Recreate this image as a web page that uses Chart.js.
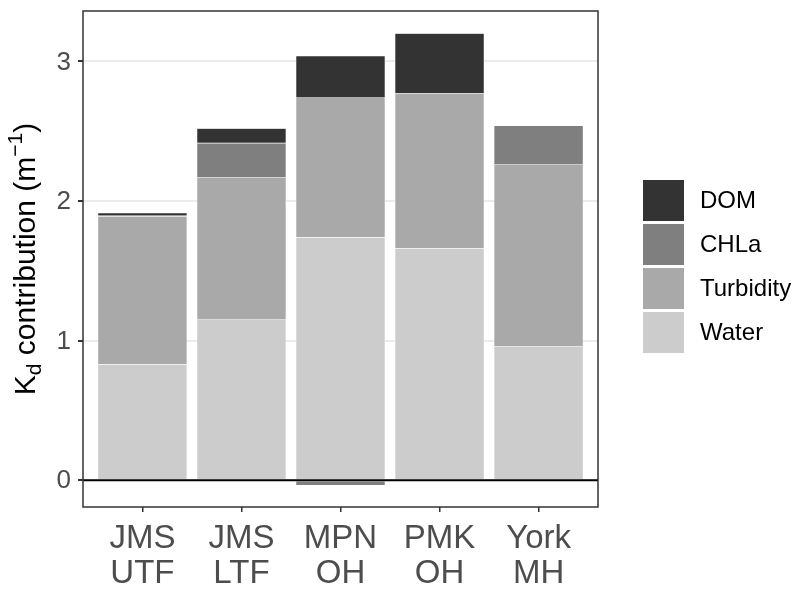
<!DOCTYPE html>
<html>
<head>
<meta charset="utf-8">
<script src="https://cdn.jsdelivr.net/npm/chart.js@4.4.1/dist/chart.umd.min.js"></script>
<style>
  html, body { margin: 0; padding: 0; background: #fff; }
  #wrap { width: 796px; height: 589px; }
</style>
</head>
<body>
<div id="wrap"><canvas id="kd" width="796" height="589"></canvas></div>
<script>
// stations (x axis), two lines each
const sites = [['JMS', 'UTF'], ['JMS', 'LTF'], ['MPN', 'OH'], ['PMK', 'OH'], ['York', 'MH']];
// Kd contributions, m^-1
const water = [0.83, 1.15, 1.74, 1.66, 0.96];
const turbidity = [1.06, 1.02, 1.00, 1.11, 1.30];
const chla = [0.005, 0.245, -0.035, 0.0, 0.28];
const dom = [0.02, 0.105, 0.30, 0.43, 0.0];
const yTicks = [0, 1, 2, 3];

const components = ['Water', 'Turbidity', 'CHLa', 'DOM'];
const fills = ['#CCCCCC', '#A9A9A9', '#7F7F7F', '#333333'];
const series = [water, turbidity, chla, dom];

const FONT = '"Liberation Sans", Arial, Helvetica, sans-serif';

function toPoints(arr) {
  return arr.map((v, i) => ({ x: i + 1, y: v }));
}

// zero line, panel border, tick labels, y title, legend
const decor = {
  id: 'decor',
  afterDatasetsDraw(chart) {
    const { ctx, chartArea: a, scales } = chart;
    const y0 = scales.y.getPixelForValue(0);
    ctx.save();
    ctx.strokeStyle = '#000';
    ctx.lineWidth = 2;
    ctx.beginPath();
    ctx.moveTo(a.left, y0);
    ctx.lineTo(a.right, y0);
    ctx.stroke();
    ctx.strokeStyle = '#333333';
    ctx.lineWidth = 1.5;
    ctx.strokeRect(a.left, a.top, a.right - a.left, a.bottom - a.top);
    ctx.restore();
  },
  afterDraw(chart) {
    const { ctx, chartArea: a, scales } = chart;

    // tick labels
    ctx.save();
    ctx.fillStyle = '#4D4D4D';
    ctx.font = '26px ' + FONT;
    ctx.textAlign = 'right';
    ctx.textBaseline = 'middle';
    yTicks.forEach(v => ctx.fillText(String(v), 71, scales.y.getPixelForValue(v) + 1));
    ctx.font = '33px ' + FONT;
    ctx.textAlign = 'center';
    ctx.textBaseline = 'alphabetic';
    sites.forEach((lines, i) => {
      const px = scales.x.getPixelForValue(i + 1);
      lines.forEach((t, j) => ctx.fillText(t, px, 548 + j * 35));
    });
    ctx.restore();

    // y axis title with sub/superscript
    ctx.save();
    const big = '30px ' + FONT, small = '21px ' + FONT;
    const parts = [['K', big, 0], ['d', small, 6], [' contribution (m', big, 0], ['\u22121', small, -13], [')', big, 0]];
    let total = 0;
    parts.forEach(p => { ctx.font = p[1]; total += ctx.measureText(p[0]).width; });
    ctx.translate(35, (a.top + a.bottom) / 2);
    ctx.rotate(-Math.PI / 2);
    ctx.fillStyle = '#000';
    ctx.textBaseline = 'alphabetic';
    let x = -total / 2;
    parts.forEach(p => {
      ctx.font = p[1];
      ctx.fillText(p[0], x, p[2]);
      x += ctx.measureText(p[0]).width;
    });
    ctx.restore();

    // legend, top item is DOM
    ctx.save();
    const keyX = 643, keyTop = 180, key = 41, step = 44;
    for (let k = 0; k < 4; k++) {
      const idx = 3 - k;
      const yTop = keyTop + k * step;
      ctx.fillStyle = fills[idx];
      ctx.fillRect(keyX, yTop, key, key);
      ctx.fillStyle = '#000';
      ctx.font = '24px ' + FONT;
      ctx.textBaseline = 'middle';
      ctx.fillText(components[idx], 700, yTop + key / 2 + 1);
    }
    ctx.restore();
  }
};

new Chart(document.getElementById('kd'), {
  type: 'bar',
  data: {
    datasets: components.map((name, i) => ({
      label: name,
      data: toPoints(series[i]),
      backgroundColor: fills[i],
      borderColor: 'rgba(255,255,255,0.8)',
      borderWidth: 0.6,
      barThickness: 89,
      borderSkipped: false
    }))
  },
  options: {
    responsive: false,
    animation: false,
    layout: { padding: { top: 11, right: 198, left: 0, bottom: 0 } },
    plugins: {
      legend: { display: false },
      tooltip: { enabled: false }
    },
    scales: {
      x: {
        type: 'linear',
        stacked: true,
        offset: false,
        min: 0.4,
        max: 5.6,
        afterBuildTicks: s => { s.ticks = sites.map((_, i) => ({ value: i + 1 })); },
        afterFit: s => { s.height = 82; },
        grid: { offset: false, drawOnChartArea: false, color: '#333333', tickColor: '#333333', tickLength: 5, lineWidth: 1.5 },
        border: { display: false },
        ticks: { display: false }
      },
      y: {
        stacked: true,
        min: -0.1915,
        max: 3.3615,
        afterBuildTicks: s => { s.ticks = yTicks.map(v => ({ value: v })); },
        afterFit: s => { s.width = 83; },
        grid: { color: '#EBEBEB', lineWidth: 2, tickColor: '#333333', tickLength: 5 },
        border: { display: false },
        ticks: { display: false }
      }
    }
  },
  plugins: [decor]
});
</script>
</body>
</html>
